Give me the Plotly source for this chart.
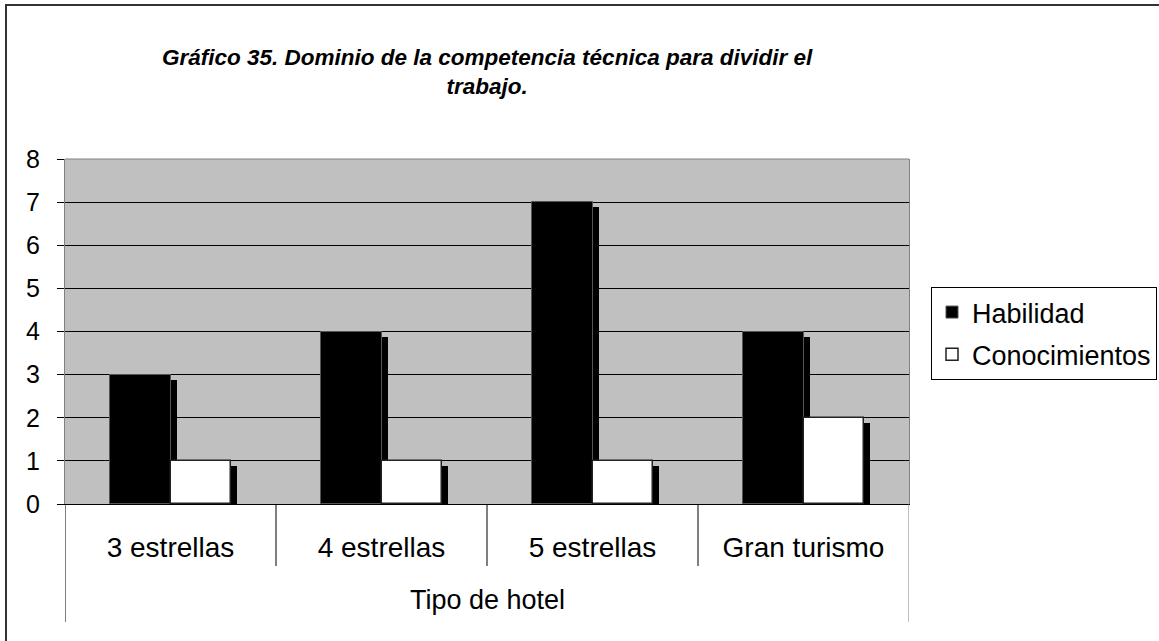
import plotly.graph_objects as go

categories = ["3 estrellas", "4 estrellas", "5 estrellas", "Gran turismo"]
habilidad = [3, 4, 7, 4]
conocimientos = [1, 1, 1, 2]
y_ticks = [0, 1, 2, 3, 4, 5, 6, 7, 8]
title_text = "Gráfico 35. Dominio de la competencia técnica para dividir el<br>trabajo."
group_label = "Tipo de hotel"

FONT = "Arial, 'Liberation Sans', sans-serif"
W, H = 1159, 641
L, R, T, B = 65, 250, 159, 137
pw, ph = W - L - R, H - T - B

bar_w = 0.285
sh_dx = 6 / (pw / len(categories))   # shadow shift, category units
sh_dy = 5 / (ph / 8)                 # shadow drop, value units

fig = go.Figure()
# Habilidad shadow + bar
fig.add_trace(go.Bar(x=categories, y=[v - sh_dy for v in habilidad], width=bar_w,
                     offset=-bar_w + sh_dx, marker=dict(color="black", line=dict(width=0)),
                     showlegend=False, hoverinfo="skip"))
fig.add_trace(go.Bar(x=categories, y=habilidad, name="Habilidad", width=bar_w, offset=-bar_w,
                     marker=dict(color="black", line=dict(color="#555555", width=1)),
                     legendgroup="h"))
# Conocimientos shadow + bar
fig.add_trace(go.Bar(x=categories, y=[v - sh_dy for v in conocimientos], width=bar_w,
                     offset=sh_dx, marker=dict(color="black", line=dict(width=0)),
                     showlegend=False, hoverinfo="skip"))
fig.add_trace(go.Bar(x=categories, y=conocimientos, name="Conocimientos", width=bar_w, offset=0,
                     marker=dict(color="white", line=dict(color="#222222", width=1.5)),
                     legendgroup="c"))

def px_x(p):
    return (p - L) / pw

def px_y(p):
    return (H - B - p) / ph

shapes = []
# outer chart border (right/bottom beyond the visible frame)
shapes.append(dict(type="rect", xref="paper", yref="paper", x0=px_x(6), x1=px_x(1175),
                   y0=px_y(660), y1=px_y(5), line=dict(color="#333333", width=2), layer="below"))
# top border of plot area in grey
shapes.append(dict(type="line", xref="paper", yref="paper", x0=0, x1=1, y0=1, y1=1,
                   line=dict(color="#808080", width=1), layer="above"))
# category separators
n = len(categories)
for i in range(1, n):
    shapes.append(dict(type="line", xref="x", yref="paper", x0=i - 0.5, x1=i - 0.5,
                       y0=0, y1=px_y(566), line=dict(color="black", width=1)))
shapes.append(dict(type="line", xref="x", yref="paper", x0=-0.5, x1=-0.5,
                   y0=0, y1=px_y(622), line=dict(color="black", width=1)))
shapes.append(dict(type="line", xref="x", yref="paper", x0=n - 0.5, x1=n - 0.5,
                   y0=0, y1=px_y(622), line=dict(color="#808080", width=1)))

annotations = [
    dict(text=title_text, xref="paper", yref="paper", x=0.5, y=px_y(72), xanchor="center",
         yanchor="middle", showarrow=False,
         font=dict(family=FONT, size=22.5, color="black", weight="bold", style="italic")),
    dict(text=group_label, xref="paper", yref="paper", x=0.5, y=px_y(600), xanchor="center",
         yanchor="middle", showarrow=False, font=dict(family=FONT, size=27, color="black")),
]

fig.update_layout(
    width=W, height=H, margin=dict(l=L, r=R, t=T, b=B, autoexpand=False),
    paper_bgcolor="white", plot_bgcolor="#C0C0C0",
    barmode="overlay", bargap=0,
    font=dict(family=FONT, color="black"),
    shapes=shapes, annotations=annotations,
    legend=dict(xref="container", yref="container", x=931 / W, y=1 - 287 / H,
                xanchor="left", yanchor="top",
                bordercolor="black", borderwidth=1, bgcolor="white",
                font=dict(family=FONT, size=27, color="black"), tracegroupgap=4,
                traceorder="grouped"),
    xaxis=dict(type="category", range=[-0.5, n - 0.5], showgrid=False, ticks="",
               showline=True, linecolor="black", linewidth=1,
               tickfont=dict(family=FONT, size=28, color="black"), ticklabelstandoff=18,
               fixedrange=True),
    yaxis=dict(range=[0, 8], tickvals=y_ticks, showgrid=True, gridcolor="black", gridwidth=1,
               zeroline=False, showline=True, linecolor="#808080", mirror=True,
               ticks="outside", ticklen=7, tickcolor="black",
               tickfont=dict(family=FONT, size=25, color="black"), ticklabelstandoff=12,
               fixedrange=True),
)

fig.write_html("out.html")
